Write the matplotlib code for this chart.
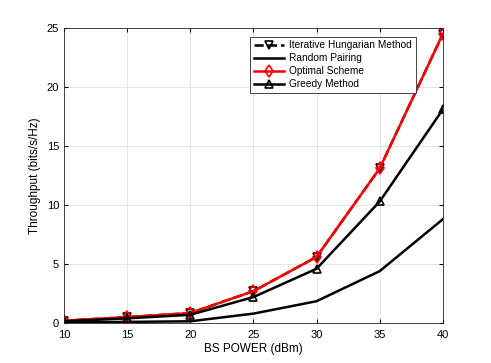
import matplotlib
matplotlib.use("Agg")
import matplotlib.pyplot as plt

plt.rcParams['font.family'] = ['Liberation Sans', 'DejaVu Sans']

power = [10, 15, 20, 25, 30, 35, 40]
hungarian = [0.2, 0.5, 0.85, 2.7, 5.6, 13.1, 24.5]
random_pairing = [0.05, 0.1, 0.15, 0.8, 1.85, 4.4, 8.8]
optimal = [0.2, 0.5, 0.85, 2.7, 5.6, 13.1, 24.5]
greedy = [0.15, 0.4, 0.7, 2.2, 4.6, 10.3, 18.1]

fig = plt.figure(figsize=(4.91, 3.63), dpi=100)
ax = fig.add_axes([0.130, 0.110, 0.772, 0.813])

ax.plot(power, hungarian, '--', color='black', marker='v', markersize=6,
        markerfacecolor='none', markeredgewidth=1.2, linewidth=1.8, label='Iterative Hungarian Method')
ax.plot(power, random_pairing, '-', color='black', linewidth=1.8, label='Random Pairing')
ax.plot(power, optimal, '-', color='red', marker='d', markersize=6,
        markerfacecolor='none', markeredgewidth=1.2, linewidth=1.8, label='Optimal Scheme')
ax.plot(power, greedy, '-', color='black', marker='^', markersize=6,
        markerfacecolor='none', markeredgewidth=1.2, linewidth=1.8, label='Greedy Method')

ax.set_xlim(10, 40)
ax.set_ylim(0, 25)
ax.set_xticks(power)
ax.set_yticks([0, 5, 10, 15, 20, 25])
ax.tick_params(direction='in', labelsize=8, length=3, top=True, right=True)
ax.tick_params(axis='x', pad=5)
ax.grid(True, color='#e0e0e0', linewidth=0.6)
ax.set_axisbelow(True)
for s in ax.spines.values():
    s.set_linewidth(0.6)
    s.set_color('#262626')

ax.set_xlabel('BS POWER (dBm)', fontsize=8.5, labelpad=2)
ax.set_ylabel('Throughput (bits/s/Hz)', fontsize=8.5, labelpad=4)

leg = ax.legend(loc='upper left', bbox_to_anchor=(0.492, 0.97), fontsize=7.3, frameon=True,
                fancybox=False, edgecolor='#262626', framealpha=1, borderpad=0.35,
                labelspacing=0.3, handlelength=3, handletextpad=0.5, borderaxespad=0)
leg.get_frame().set_linewidth(0.6)

fig.savefig('out.png', dpi=100)
